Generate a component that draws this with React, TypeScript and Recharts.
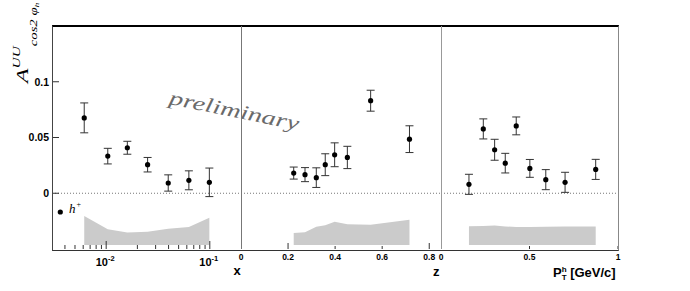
import React from 'react';
import { ComposedChart, Scatter, Area, XAxis, YAxis, ErrorBar, ReferenceLine } from 'recharts';

// ---------- data ----------
// panel 1 : x (Bjorken)
const xBins = [0.00614, 0.01036, 0.016, 0.0251, 0.0397, 0.0628, 0.099];
const xAsym = [0.0676, 0.0333, 0.0408, 0.0256, 0.0092, 0.0116, 0.0098];
const xErr = [0.0134, 0.007, 0.0058, 0.0065, 0.0073, 0.0085, 0.0128];
const xSysTop = [-0.0203, -0.0322, -0.0352, -0.0345, -0.0318, -0.0303, -0.022];
const xSysBottom = [-0.0465, -0.0465, -0.0465, -0.0465, -0.0465, -0.0465, -0.0465];

// panel 2 : z
const zBins = [0.224, 0.272, 0.32, 0.358, 0.398, 0.452, 0.551, 0.716];
const zAsym = [0.0181, 0.0167, 0.014, 0.0256, 0.0345, 0.0321, 0.083, 0.0485];
const zErr = [0.0054, 0.0063, 0.0088, 0.0098, 0.0107, 0.01, 0.0094, 0.012];
const zSysTop = [-0.0357, -0.035, -0.03, -0.0286, -0.0256, -0.0277, -0.0283, -0.0238];
const zSysBottom = [-0.0465, -0.0465, -0.0465, -0.0465, -0.0465, -0.0465, -0.0465, -0.0465];

// panel 3 : P_T^h
const ptBins = [0.158, 0.239, 0.303, 0.363, 0.425, 0.502, 0.592, 0.701, 0.874];
const ptAsym = [0.008, 0.0577, 0.039, 0.027, 0.0604, 0.0223, 0.0122, 0.0098, 0.0214];
const ptErr = [0.009, 0.009, 0.0094, 0.0088, 0.008, 0.008, 0.009, 0.009, 0.009];
const ptSysTop = [-0.0295, -0.0293, -0.029, -0.0298, -0.0303, -0.0303, -0.03, -0.0298, -0.0298];
const ptSysBottom = [-0.0465, -0.0465, -0.0465, -0.0465, -0.0465, -0.0465, -0.0465, -0.0465, -0.0465];

// axes
const yDomain = [-0.05, 0.15];
const yTicks = [0, 0.05, 0.1];
const yTickLabels = ['0', '0.05', '0.1'];

const xDomain = [0.003, 0.2];
const xTicks = [0.004, 0.005, 0.006, 0.007, 0.008, 0.009, 0.01, 0.02, 0.03, 0.04, 0.05, 0.06, 0.07, 0.08, 0.09, 0.1];
const xMajorTicks = [0.01, 0.1];
const xMajorExp = ['-2', '-1'];

const zDomain = [0, 0.85];
const zTicks = [0, 0.2, 0.4, 0.6, 0.8];
const zTickLabels = ['0', '0.2', '0.4', '0.6', '0.8'];
const zLongTicks = [0.2, 0.8];

const ptDomain = [0, 1];
const ptTicks = [0, 0.5, 1];
const ptTickLabels = ['0', '0.5', '1'];

const build = (xs: number[], ys: number[], es: number[], lo: number[], hi: number[]) =>
  xs.map((x, i) => ({ x, y: ys[i], e: es[i], band: [lo[i], hi[i]] }));

const rowsX = build(xBins, xAsym, xErr, xSysBottom, xSysTop);
const rowsZ = build(zBins, zAsym, zErr, zSysBottom, zSysTop);
const rowsPt = build(ptBins, ptAsym, ptErr, ptSysBottom, ptSysTop);

// ---------- layout & styling ----------
const W = 690;
const H = 291;
const XAXIS_H = 42;
const PANEL_EDGES = [52, 241, 441, 618];
const PLOT_TOP = 26;
const PLOT_BOTTOM = H - XAXIS_H;
const SANS = "'Liberation Sans', Arial, Helvetica, sans-serif";
const SERIF = "'Liberation Serif', 'Times New Roman', serif";

const Dot = (p: any) => <circle cx={p.cx} cy={p.cy} r={2.6} fill="#000" />;

const makeYTick = (showLabel: boolean) => (p: any) => {
  const { x, y, payload, index } = p;
  return (
    <g>
      <line x1={x} y1={y} x2={x + 7} y2={y} stroke="#333" strokeWidth={1} />
      {showLabel && (
        <text x={x - 3} y={y + 3.8} textAnchor="end" fontFamily={SANS} fontWeight="bold" fontSize={10.5} fill="#000">
          {yTickLabels[yTicks.indexOf(payload.value)] ?? yTickLabels[index]}
        </text>
      )}
    </g>
  );
};
const YTickLabelled = makeYTick(true);
const YTickPlain = makeYTick(false);

const LogTick = (p: any) => {
  const { x, y, payload } = p;
  const mi = xMajorTicks.indexOf(payload.value);
  const major = mi >= 0;
  return (
    <g>
      <line x1={x} y1={y} x2={x} y2={y - (major ? 8 : 4)} stroke="#333" strokeWidth={1} />
      {major && (
        <text x={x - 1} y={y + 17} textAnchor="middle" fontFamily={SANS} fontWeight="bold" fontSize={11} fill="#000">
          10
          <tspan dy={-5} fontSize={7.5}>{xMajorExp[mi]}</tspan>
        </text>
      )}
    </g>
  );
};

const makeLinTick = (labels: string[], ticks: number[], longTicks: number[]) => (p: any) => {
  const { x, y, payload } = p;
  const i = ticks.indexOf(payload.value);
  const long = longTicks.indexOf(payload.value) >= 0;
  return (
    <g>
      {payload.value !== ticks[0] && (
        <line x1={x} y1={y} x2={x} y2={y - (long ? 6 : 3)} stroke="#333" strokeWidth={1} />
      )}
      <text x={x} y={y + 10.5} textAnchor="middle" fontFamily={SANS} fontWeight="bold" fontSize={8.5} fill="#000">
        {labels[i]}
      </text>
    </g>
  );
};
const ZTick = makeLinTick(zTickLabels, zTicks, zLongTicks);
const PtTick = makeLinTick(ptTickLabels, ptTicks, []);

const Annotations = () => (
  <g>
    {/* y-axis title */}
    <g transform="translate(28,83) rotate(-90) scale(1.4,1)">
      <text x={0} y={0} fontFamily={SERIF} fontStyle="italic" fill="#000">
        <tspan fontSize={17}>A</tspan>
        <tspan fontSize={11} dy={-8.5}>UU</tspan>
        <tspan fontSize={10.5} dy={17.5}>cos2 φ</tspan>
        <tspan fontSize={7} dy={2}>h</tspan>
      </text>
    </g>
    {/* preliminary */}
    <text
      x={233}
      y={117}
      textAnchor="middle"
      transform="rotate(11.5,233,117)"
      fontFamily={SERIF}
      fontStyle="italic"
      fontSize={20}
      fill="#6a6a6a"
      textLength={132}
      lengthAdjust="spacingAndGlyphs"
    >
      preliminary
    </text>
    {/* legend */}
    <circle cx={60.3} cy={212} r={2.6} fill="#000" />
    <text x={69} y={213} fontFamily={SERIF} fontStyle="italic" fontSize={13} fill="#000">
      h<tspan dx={1} dy={-6} fontSize={8} fontStyle="normal">+</tspan>
    </text>
    {/* axis titles */}
    <text x={233.5} y={275} fontFamily={SANS} fontWeight="bold" fontSize={13} fill="#000">x</text>
    <text x={433} y={276} fontFamily={SANS} fontWeight="bold" fontSize={13} fill="#000">z</text>
    <text x={553} y={277} fontFamily={SANS} fontWeight="bold" fontSize={13} fill="#000">
      P
      <tspan fontSize={8} dy={-5}>h</tspan>
      <tspan fontSize={8} dx={-4.9} dy={8}>T</tspan>
      <tspan dy={-3}> [GeV/c]</tspan>
    </text>
  </g>
);

const abs: React.CSSProperties = { position: 'absolute', left: 0, top: 0 };
const m1 = { top: PLOT_TOP, right: W - PANEL_EDGES[1], bottom: 0, left: 0 };
const m2 = { top: PLOT_TOP, right: W - PANEL_EDGES[2], bottom: 0, left: PANEL_EDGES[1] };
const m3 = { top: PLOT_TOP, right: W - PANEL_EDGES[3], bottom: 0, left: PANEL_EDGES[2] };

// frame drawn as plain HTML borders on top of the three chart layers
const frameBox: React.CSSProperties = {
  position: 'absolute',
  left: PANEL_EDGES[0],
  top: PLOT_TOP - 1,
  width: PANEL_EDGES[3] - PANEL_EDGES[0] - 1,
  height: PLOT_BOTTOM - PLOT_TOP,
  borderTop: '2px solid #000',
  borderLeft: '1px solid #444',
  borderRight: '1px solid #888',
  borderBottom: '1px solid #333',
  pointerEvents: 'none',
};
const divider = (x: number, color: string): React.CSSProperties => ({
  position: 'absolute',
  left: x,
  top: PLOT_TOP,
  width: 0,
  height: PLOT_BOTTOM - PLOT_TOP,
  borderLeft: `1px solid ${color}`,
  pointerEvents: 'none',
});

export default function App() {
  return (
    <div style={{ position: 'absolute', left: 0, top: 0, width: W, height: H, background: '#fff' }}>
      {/* panel 1 : x */}
      <div style={abs}>
        <ComposedChart width={W} height={H} data={rowsX} margin={m1}>
          <XAxis
            dataKey="x"
            type="number"
            scale="log"
            domain={xDomain}
            allowDataOverflow
            ticks={xTicks}
            interval={0}
            tickLine={false}
            tickSize={0}
            tickMargin={0}
            tick={LogTick}
            height={XAXIS_H}
            axisLine={false}
          />
          <YAxis
            type="number"
            domain={yDomain}
            allowDataOverflow
            ticks={yTicks}
            interval={0}
            width={PANEL_EDGES[0]}
            tickLine={false}
            tickSize={0}
            tickMargin={0}
            tick={YTickLabelled}
            axisLine={false}
          />
          <Area dataKey="band" type="linear" fill="#cbcbcb" fillOpacity={1} stroke="none" isAnimationActive={false} activeDot={false} />
          <ReferenceLine y={0} stroke="#777" strokeDasharray="1 2" />
          <Scatter data={rowsX} dataKey="y" shape={Dot} isAnimationActive={false}>
            <ErrorBar dataKey="e" direction="y" width={4} stroke="#333" strokeWidth={1} />
          </Scatter>
          <Annotations />
        </ComposedChart>
      </div>
      {/* panel 2 : z */}
      <div style={abs}>
        <ComposedChart width={W} height={H} data={rowsZ} margin={m2}>
          <XAxis
            dataKey="x"
            type="number"
            domain={zDomain}
            allowDataOverflow
            ticks={zTicks}
            interval={0}
            tickLine={false}
            tickSize={0}
            tickMargin={0}
            tick={ZTick}
            height={XAXIS_H}
            axisLine={false}
          />
          <YAxis
            type="number"
            domain={yDomain}
            allowDataOverflow
            ticks={yTicks}
            interval={0}
            width={0}
            tickLine={false}
            tickSize={0}
            tickMargin={0}
            tick={YTickPlain}
            axisLine={false}
          />
          <Area dataKey="band" type="linear" fill="#cbcbcb" fillOpacity={1} stroke="none" isAnimationActive={false} activeDot={false} />
          <ReferenceLine y={0} stroke="#777" strokeDasharray="1 2" />
          <Scatter data={rowsZ} dataKey="y" shape={Dot} isAnimationActive={false}>
            <ErrorBar dataKey="e" direction="y" width={4} stroke="#333" strokeWidth={1} />
          </Scatter>
        </ComposedChart>
      </div>
      {/* panel 3 : PT */}
      <div style={abs}>
        <ComposedChart width={W} height={H} data={rowsPt} margin={m3}>
          <XAxis
            dataKey="x"
            type="number"
            domain={ptDomain}
            allowDataOverflow
            ticks={ptTicks}
            interval={0}
            tickLine={false}
            tickSize={0}
            tickMargin={0}
            tick={PtTick}
            height={XAXIS_H}
            axisLine={false}
          />
          <YAxis
            type="number"
            domain={yDomain}
            allowDataOverflow
            ticks={yTicks}
            interval={0}
            width={0}
            tickLine={false}
            tickSize={0}
            tickMargin={0}
            tick={YTickPlain}
            axisLine={false}
          />
          <Area dataKey="band" type="linear" fill="#cbcbcb" fillOpacity={1} stroke="none" isAnimationActive={false} activeDot={false} />
          <ReferenceLine y={0} stroke="#777" strokeDasharray="1 2" />
          <Scatter data={rowsPt} dataKey="y" shape={Dot} isAnimationActive={false}>
            <ErrorBar dataKey="e" direction="y" width={4} stroke="#333" strokeWidth={1} />
          </Scatter>
        </ComposedChart>
      </div>
      {/* frame overlay */}
      <div style={frameBox} />
      <div style={divider(PANEL_EDGES[1], '#777')} />
      <div style={divider(PANEL_EDGES[2], '#999')} />
    </div>
  );
}
